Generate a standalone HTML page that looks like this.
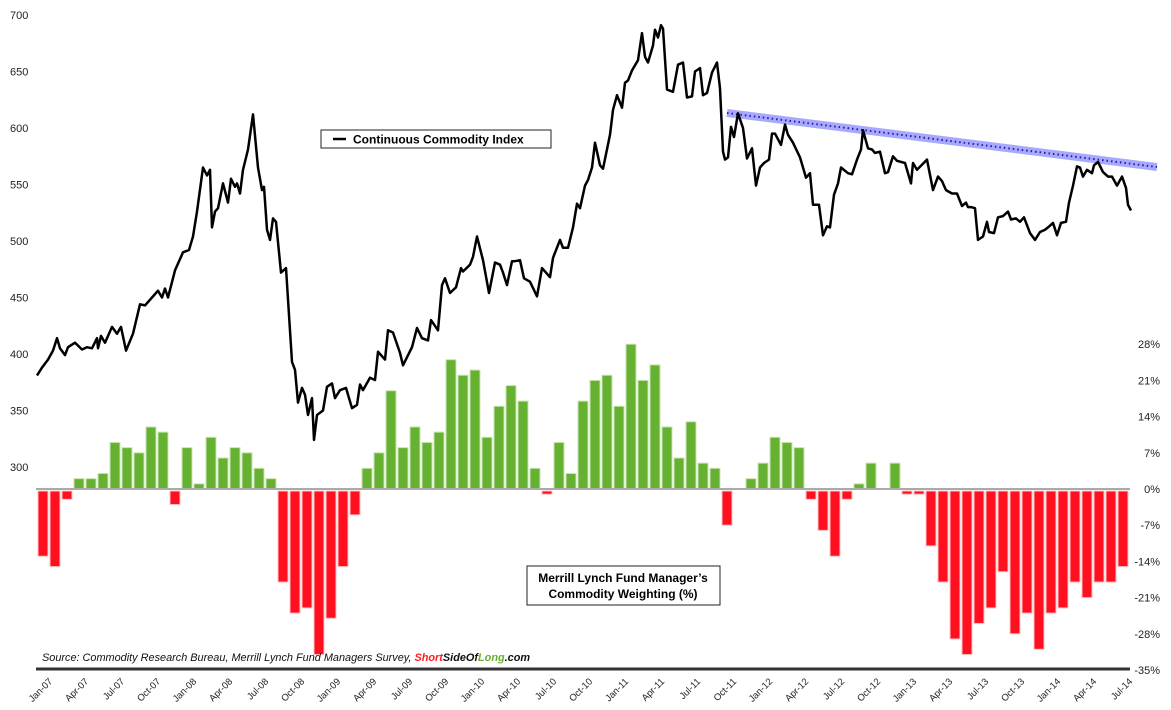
<!DOCTYPE html>
<html><head><meta charset="utf-8"><style>
body{margin:0;background:#fff}
svg{display:block;font-family:"Liberation Sans","DejaVu Sans",sans-serif}
</style></head><body>
<svg id="chart" width="1171" height="710" viewBox="0 0 1171 710" xmlns="http://www.w3.org/2000/svg">
<g id="axes"></g><g id="bars"></g><g id="lines"></g>
<g>
<rect x="321" y="130" width="230" height="18" fill="#fff" stroke="#222" stroke-width="1"/>
<line x1="333" y1="139" x2="346" y2="139" stroke="#000" stroke-width="2.5"/>
<text x="353" y="143.5" font-size="12" font-weight="bold" fill="#000">Continuous Commodity Index</text>
</g>
<g>
<rect x="527" y="566" width="193" height="39" fill="#fff" stroke="#222" stroke-width="1"/>
<text x="623" y="582" font-size="12" font-weight="bold" text-anchor="middle">Merrill Lynch Fund Manager’s</text>
<text x="623" y="598" font-size="12" font-weight="bold" text-anchor="middle">Commodity Weighting (%)</text>
</g>
<text x="42" y="661" font-size="10.9" font-style="italic" fill="#111">Source: Commodity Research Bureau, Merrill Lynch Fund Managers Survey, <tspan fill="#ff2020" font-weight="bold">Short</tspan><tspan font-weight="bold">SideOf</tspan><tspan fill="#66b032" font-weight="bold">Long</tspan><tspan font-weight="bold">.com</tspan></text>
</svg>
<script>
const barValues=[-13,-15,-2,2,2,3,9,8,7,12,11,-3,8,1,10,6,8,7,4,2,-18,-24,-23,-32,-25,-15,-5,4,7,19,8,12,9,11,25,22,23,10,16,20,17,4,-1,9,3,17,21,22,16,28,21,24,12,6,13,5,4,-7,0,2,5,10,9,8,-2,-8,-13,-2,1,5,0,5,-1,-1,-11,-18,-29,-32,-26,-23,-16,-28,-24,-31,-24,-23,-18,-21,-18,-18,-15];
const monthLabels=["Jan-07","Apr-07","Jul-07","Oct-07","Jan-08","Apr-08","Jul-08","Oct-08","Jan-09","Apr-09","Jul-09","Oct-09","Jan-10","Apr-10","Jul-10","Oct-10","Jan-11","Apr-11","Jul-11","Oct-11","Jan-12","Apr-12","Jul-12","Oct-12","Jan-13","Apr-13","Jul-13","Oct-13","Jan-14","Apr-14","Jul-14"];
const leftTicks=[700,650,600,550,500,450,400,350,300];
const rightTicks=[28,21,14,7,0,-7,-14,-21,-28,-35];
const lineMonths=[-0.5,-0.08,0.42,0.83,1.17,1.42,1.83,2.08,2.67,3.25,3.67,4.08,4.5,4.58,4.83,5.17,5.75,6.17,6.5,6.92,7.5,8.08,8.5,9.08,9.58,9.92,10.17,10.42,11,11.67,12.17,12.5,12.83,13.33,13.67,13.92,14.08,14.33,14.58,15,15.42,15.67,16,16.17,16.42,16.67,17.08,17.5,17.92,18.25,18.42,18.67,18.92,19.17,19.42,19.83,20.25,20.75,21,21.25,21.58,21.83,22.08,22.42,22.58,22.83,23.33,23.67,24.08,24.33,24.75,25.25,25.75,26.17,26.42,26.67,27.25,27.67,27.92,28.5,28.75,29.17,29.75,30,30.75,31.17,31.58,32.08,32.33,32.92,33.25,33.5,33.92,34.42,34.83,35,35.58,35.83,36.17,36.67,37.17,37.67,38.08,38.33,38.67,39.08,39.25,39.75,40.08,40.58,41.17,41.58,42.25,42.5,43.08,43.33,43.75,44.17,44.5,44.75,45.17,45.42,45.75,46,46.42,46.67,47.25,47.5,47.83,48.25,48.5,48.75,49.08,49.58,49.92,50.17,50.42,50.83,51,51.25,51.5,51.67,52,52.5,52.92,53.33,53.67,54.08,54.33,54.75,55,55.33,55.75,56.17,56.42,56.67,56.83,57.08,57.33,57.58,57.92,58.33,58.67,59.08,59.42,59.75,60.08,60.5,60.75,61,61.5,61.83,62.08,62.5,63.08,63.58,63.92,64.17,64.67,65,65.33,65.58,65.92,66.25,66.5,67.08,67.42,67.83,68.17,68.33,68.75,69.08,69.33,69.75,70.17,70.42,70.83,71.17,71.83,72.33,72.5,72.83,73.67,74.17,74.58,74.92,75.25,75.75,76.17,76.58,76.92,77.08,77.33,77.67,77.92,78.33,78.67,78.83,79.25,79.58,80,80.42,80.67,81.08,81.42,81.75,82.25,82.67,83.08,83.5,83.75,84.17,84.5,84.83,85.25,85.5,85.83,86.17,86.42,86.67,87,87.42,87.58,87.92,88.33,88.75,89.08,89.5,89.92,90.25,90.42,90.67];
const lineValues=[381,388,395,403,414,405,399,406,410,404,406,405,414,405,416,410,424,418,424,403,418,444,443,450,456,450,458,450,474,490,492,504,526,565,558,563,512,526,529,551,534,555,548,551,542,563,581,612,565,545,548,510,501,520,517,472,476,393,386,357,370,364,346,361,324,346,350,371,374,361,368,370,352,355,373,368,379,377,402,395,421,419,401,390,406,423,414,412,430,421,461,467,454,459,476,473,479,486,504,483,454,481,479,472,461,482,482,483,467,464,451,476,468,485,501,494,494,512,533,529,549,554,565,587,567,564,594,616,629,618,640,642,651,660,684,663,658,673,687,680,691,688,634,632,656,658,627,628,650,653,629,631,649,658,635,579,572,574,601,592,613,600,573,582,549,565,569,572,595,595,585,603,594,587,574,556,560,532,532,505,513,512,541,551,565,560,559,572,581,598,582,581,578,579,560,561,575,571,569,551,569,563,572,545,557,553,545,542,542,531,534,530,530,529,501,504,517,508,507,521,522,526,519,520,517,521,507,501,508,510,512,516,505,516,517,534,549,566,565,557,563,560,567,570,561,557,557,549,557,547,532,527,526];
const trendMonths=[57,92.83];
const trendValues=[613.3,565.5];

const NS="http://www.w3.org/2000/svg";
function xM(m){return 43+m*12;}
function yL(v){return 15+(700-v)*1.13;}
function yP(p){return 489-p*36.2/7;}
function mk(tag,attrs,parent){const e=document.createElementNS(NS,tag);for(const k in attrs)e.setAttribute(k,attrs[k]);parent.appendChild(e);return e;}
const axes=document.getElementById('axes'),bars=document.getElementById('bars'),lines=document.getElementById('lines');

leftTicks.forEach(v=>{const t=mk('text',{x:10,y:yL(v)+4,'font-size':11,fill:'#222'},axes);t.textContent=v;

});
rightTicks.forEach(p=>{const t=mk('text',{x:1160,y:yP(p)+4,'font-size':11,fill:'#222','text-anchor':'end'},axes);t.textContent=p+'%';

});
monthLabels.forEach((s,i)=>{const x=xM(i*3)+10,y=682;const t=mk('text',{x:x,y:y,'font-size':9.5,fill:'#222','text-anchor':'end',transform:`rotate(-45 ${x} ${y})`},axes);t.textContent=s;

});

barValues.forEach((p,i)=>{const x=xM(i)-5;const y0=yP(0),y1=yP(p);
const r=mk('rect',{x:x,y:Math.min(y0,y1)+(p<0?2:0),width:10,height:Math.max(0,Math.abs(y1-y0)-(p<0?2:0)),fill:p>=0?'#66b032':'#ff1020',stroke:p>=0?'#c8e6b0':'#ffc0c0','stroke-width':1},bars);

});
const zl=mk('line',{x1:36,y1:yP(0),x2:1130,y2:yP(0),stroke:'#aaa','stroke-width':2},bars);


const xa=mk('line',{x1:36,y1:669,x2:1130,y2:669,stroke:'#333','stroke-width':3},axes);



const tp=trendMonths.map((m,i)=>xM(m)+','+yL(trendValues[i])).join(' ');
const tr=mk('polyline',{points:tp,fill:'none',stroke:'#a8a8ff','stroke-width':8},lines);


const td=mk('polyline',{points:tp,fill:'none',stroke:'#2020a0','stroke-width':2,'stroke-dasharray':'1.5 3'},lines);


const lp=lineMonths.map((m,i)=>xM(m).toFixed(1)+','+yL(lineValues[i]).toFixed(1)).join(' ');
const cl=mk('polyline',{points:lp,fill:'none',stroke:'#000','stroke-width':2.5,'stroke-linejoin':'round'},lines);


</script>
</body></html>
